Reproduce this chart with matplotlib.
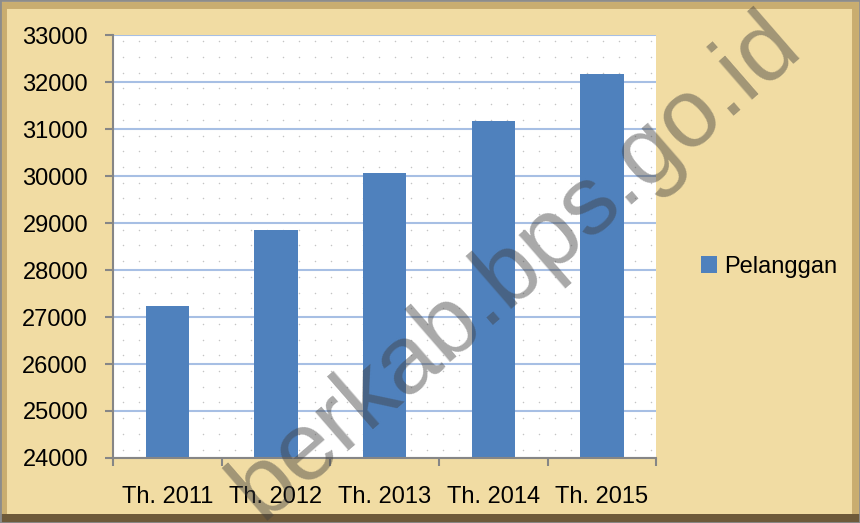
import matplotlib.pyplot as plt
import numpy as np
from matplotlib.patches import Rectangle

plt.rcParams['font.family'] = ['Liberation Sans', 'DejaVu Sans']

# data pelanggan per tahun
tahun = ['Th. 2011', 'Th. 2012', 'Th. 2013', 'Th. 2014', 'Th. 2015']
pelanggan = [27240, 28850, 30060, 31170, 32170]
y_ticks = list(range(24000, 33001, 1000))

fig = plt.figure(figsize=(8.6, 5.23), dpi=100)
fig.patch.set_facecolor('#F1DCA3')

# bingkai kertas
fig.patches.append(Rectangle((0.004, 0.006), 0.99, 0.985, transform=fig.transFigure,
                             facecolor='none', edgecolor='#C9AD70', linewidth=5, zorder=0))
fig.patches.append(Rectangle((0.0, 0.0), 1.0, 0.018, transform=fig.transFigure,
                             facecolor='#6E5A3A', edgecolor='none', zorder=0))
fig.patches.append(Rectangle((0.0, 0.0), 1.0, 1.0, transform=fig.transFigure,
                             facecolor='none', edgecolor='#8C8C8C', linewidth=2, zorder=0))

ax = fig.add_axes([0.1314, 0.1243, 0.6316, 0.8087])
ax.set_facecolor('white')

# pola titik di latar area plot
gx, gy = np.meshgrid(np.arange(0.018, 1, 16 / 543), np.arange(0.02, 1, 15.7 / 423))
ax.scatter(gx.ravel(), gy.ravel(), s=1.2, color='#C4C4C4', transform=ax.transAxes,
           zorder=0.5, linewidths=0)

x = np.arange(len(tahun))
ax.bar(x, pelanggan, width=0.4, color='#4F81BD', label='Pelanggan', zorder=3)

ax.set_ylim(24000, 33000)
ax.set_xlim(-0.5, len(tahun) - 0.5)
ax.set_yticks(y_ticks)
ax.set_yticklabels([str(v) for v in y_ticks], fontsize=17)
ax.set_xticks(x)
ax.set_xticklabels(tahun, fontsize=17)
ax.set_xticks(np.arange(-0.5, len(tahun)), minor=True)
ax.tick_params(axis='x', which='major', length=0, pad=20)
ax.tick_params(axis='x', which='minor', length=6, color='#868686', width=1.5)
ax.tick_params(axis='y', length=6, color='#868686', width=1.5, pad=12)

ax.yaxis.grid(True, color='#A7BFE4', linewidth=1.5, zorder=1)
for s in ['top', 'right']:
    ax.spines[s].set_visible(False)
for s in ['left', 'bottom']:
    ax.spines[s].set_color('#868686')
    ax.spines[s].set_linewidth(1.5)
    ax.spines[s].set_zorder(4)

fig.legend(loc='center left', bbox_to_anchor=(0.79, 0.49), frameon=False,
           fontsize=17, handlelength=0.7, handleheight=0.7, handletextpad=0.3)

# watermark
fig.text(0.6, 0.49, 'berkab.bps.go.id', fontsize=70, rotation=41,
         color='#404040', alpha=0.45, ha='center', va='center', zorder=10)

fig.savefig('out.png', dpi=100, facecolor=fig.get_facecolor())
